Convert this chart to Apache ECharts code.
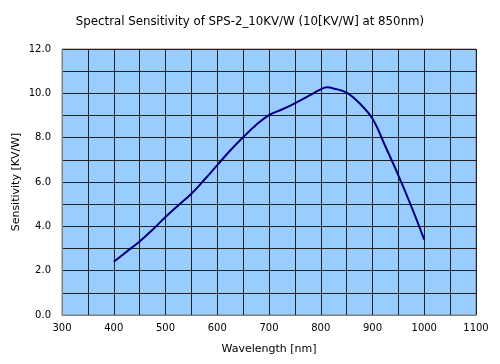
<!DOCTYPE html>
<html><head><meta charset="utf-8">
<script src="https://cdn.jsdelivr.net/npm/echarts@6/dist/echarts.min.js"></script>
<style>html,body{margin:0;padding:0;background:#fff}#c{width:500px;height:364px}</style>
</head><body><div id="c"></div>
<script>
const wavelengths = [400,425,450,475,500,525,550,575,600,625,650,675,700,725,750,775,800,812,825,850,875,900,925,950,975,1000];
const sensitivity = [2.4,2.86,3.32,3.85,4.42,4.95,5.47,6.1,6.76,7.42,8.02,8.57,9.02,9.27,9.55,9.86,10.18,10.27,10.22,10.03,9.55,8.85,7.6,6.3,4.9,3.4];
const titleText = 'Spectral Sensitivity of SPS-2_10KV/W (10[KV/W] at 850nm)';
const xName = 'Wavelength [nm]';
const yName = 'Sensitivity [KV/W]';

const chart = echarts.init(document.getElementById('c'));
const font = 'DejaVu Sans, sans-serif';
chart.setOption({
  animation: false,
  title: { text: titleText, left: 'center', top: 11,
    textStyle: { fontSize: 11.8, fontWeight: 'normal', color: '#000', fontFamily: font } },
  grid: { left: 62, right: 24, top: 49, bottom: 49, show: true, outerBoundsMode: 'none',
    backgroundColor: '#99ccff', borderColor: '#808080', borderWidth: 1 },
  xAxis: { type: 'value', min: 300, max: 1100, interval: 50,
    name: xName, nameLocation: 'middle', nameGap: 29, nameMoveOverlap: false,
    nameTextStyle: { fontSize: 11, color: '#000', fontFamily: font },
    axisLine: { show: true, lineStyle: { color: '#808080' } },
    axisTick: { show: false },
    axisLabel: { color: '#000', fontSize: 10, fontFamily: font, margin: 8,
      formatter: v => (v % 100 === 0 ? String(v) : '') },
    splitLine: { show: true, lineStyle: { color: '#222', width: 1 } } },
  yAxis: { type: 'value', min: 0, max: 12, interval: 1,
    name: yName, nameLocation: 'middle', nameGap: 40, nameMoveOverlap: false,
    nameTextStyle: { fontSize: 11, color: '#000', fontFamily: font },
    axisLine: { show: true, lineStyle: { color: '#808080' } },
    axisTick: { show: false },
    axisLabel: { color: '#000', fontSize: 10, fontFamily: font, margin: 11,
      formatter: v => (v % 2 === 0 ? v.toFixed(1) : '') },
    splitLine: { show: true, lineStyle: { color: '#222', width: 1 } } },
  series: [{ type: 'line', data: wavelengths.map((w, i) => [w, sensitivity[i]]),
    smooth: 0.4, showSymbol: false, lineStyle: { color: '#000080', width: 2 } }]
});
</script></body></html>
